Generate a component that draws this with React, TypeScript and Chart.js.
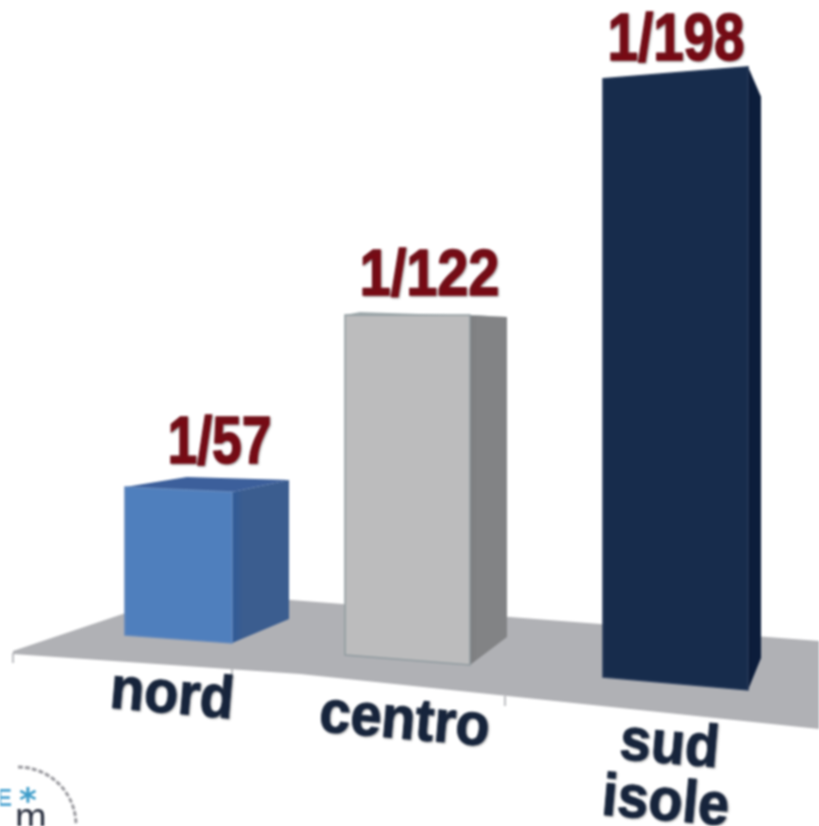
import React, { useEffect, useRef } from "react";
import { Chart, registerables } from "chart.js";

Chart.register(...registerables);

// Data
const categories: string[][] = [["nord"], ["centro"], ["sud", "isole"]];
const denominators: number[] = [57, 122, 198];

// Styles
const frontColors = ["#4f7fbd", "#bcbcbd", "#172c4c"];
const edgeColors = ["#6388bc", "#8f9a9f", "#2a3d5c"];
const sideNearColors = ["#2f5a97", "#7c7d7f", "#07142e"];
const sideFarColors = ["#3b5d8f", "#828385", "#0c1d3b"];
const topColors = ["#3c5f9b", "#a3adb0", "#1f3350"];
const VALUE_COLOR = "#780a14";
const LABEL_COLOR = "#16243c";
const FLOOR_COLOR = "#b0b1b5";

// Hand-tuned projection of each bar (the picture is a 3D perspective drawing)
const views = [
  { shift: 0.5, widthK: 0.86, heightK: 0.868, base: 635, tlDy: -5, trDy: 0, blDy: 0, brDy: 8, sideDx: 57, sideTopDy: -12, sideBotDy: -16, backDx: 62, backDy: -15, valDx: 41, valDy: -29, valSize: 66, valSx: 0.81, labDx: -8, labY: 713 },
  { shift: -19.5, widthK: 1.004, heightK: 0.964, base: 655, tlDy: 0, trDy: 0, blDy: 0, brDy: 10, sideDx: 37, sideTopDy: 2, sideBotDy: -18, backDx: 15, backDy: -3, valDx: 22, valDy: -20, valSize: 65, valSx: 0.86, labDx: -4.5, labY: 738.5 },
  { shift: -0.5, widthK: 1.165, heightK: 1.045, base: 677, tlDy: 0, trDy: -12, blDy: 0, brDy: 13, sideDx: 13, sideTopDy: 30, sideBotDy: -19, backDx: 0, backDy: 0, valDx: 0.5, valDy: -19, valSize: 66, valSx: 0.83, labDx: -7.5, labY: 763 },
];

function poly(ctx: CanvasRenderingContext2D, pts: number[][]) {
  ctx.beginPath();
  pts.forEach((p, i) => (i ? ctx.lineTo(p[0], p[1]) : ctx.moveTo(p[0], p[1])));
  ctx.closePath();
}

function corners(el: any, v: (typeof views)[number]) {
  const L = el.x - el.width / 2;
  const R = el.x + el.width / 2;
  return {
    L,
    R,
    TL: [L, el.y + v.tlDy],
    TR: [R, el.y + v.trDy],
    BL: [L, el.base + v.blDy],
    BR: [R, el.base + v.brDy],
  };
}

const perspectivePlugin = {
  id: "perspective",
  afterDatasetsUpdate(chart: any) {
    const bottom = chart.scales.y.bottom;
    chart.getDatasetMeta(0).data.forEach((el: any, i: number) => {
      const v = views[i];
      el.x += v.shift;
      el.width *= v.widthK;
      el.base = v.base;
      el.y = v.base - (bottom - el.y) * v.heightK;
      el.height = el.base - el.y;
    });
  },
  beforeDatasetsDraw(chart: any) {
    const ctx: CanvasRenderingContext2D = chart.ctx;
    ctx.save();
    // floor
    ctx.fillStyle = FLOOR_COLOR;
    poly(ctx, [[13, 651], [188, 592], [819, 641], [819, 729], [300, 674], [13, 654]]);
    ctx.fill();
    // small axis ticks
    ctx.strokeStyle = "#a9aaae";
    ctx.lineWidth = 1.5;
    [[13, 653], [232, 669], [505, 696]].forEach(([x, y]) => {
      ctx.beginPath();
      ctx.moveTo(x, y);
      ctx.lineTo(x, y + 10);
      ctx.stroke();
    });
    // faces of the bars that are not the plain front rectangle
    chart.getDatasetMeta(0).data.forEach((el: any, i: number) => {
      const v = views[i];
      const { L, R, TL, TR, BL, BR } = corners(el, v);
      const ST = [R + v.sideDx, TR[1] + v.sideTopDy];
      const SB = [R + v.sideDx, el.base + v.sideBotDy];
      const sideGrad = ctx.createLinearGradient(R, 0, R + v.sideDx, 0);
      sideGrad.addColorStop(0, sideNearColors[i]);
      sideGrad.addColorStop(0.2, sideFarColors[i]);
      sideGrad.addColorStop(1, sideFarColors[i]);
      ctx.fillStyle = sideGrad;
      poly(ctx, [TR, ST, SB, BR]);
      ctx.fill();
      if (v.backDx) {
        ctx.fillStyle = topColors[i];
        poly(ctx, [TL, TR, ST, [L + v.backDx, el.y + v.backDy]]);
        ctx.fill();
      }
      ctx.fillStyle = frontColors[i];
      poly(ctx, [TL, TR, BR, BL]);
      ctx.fill();
    });
    ctx.restore();
  },
  afterDatasetsDraw(chart: any) {
    const ctx: CanvasRenderingContext2D = chart.ctx;
    const meta = chart.getDatasetMeta(0);
    ctx.save();
    ctx.textAlign = "center";
    ctx.textBaseline = "alphabetic";
    meta.data.forEach((el: any, i: number) => {
      const v = views[i];
      // outline of the front face
      const { TL, TR, BL, BR } = corners(el, v);
      ctx.strokeStyle = edgeColors[i];
      ctx.lineWidth = 1.5;
      poly(ctx, [TL, TR, BR, BL]);
      ctx.stroke();
      // value label
      ctx.save();
      ctx.translate(el.x + v.valDx, el.y + v.valDy);
      ctx.scale(v.valSx, 1);
      ctx.font = `bold ${v.valSize}px "Liberation Sans"`;
      ctx.fillStyle = VALUE_COLOR;
      ctx.strokeStyle = VALUE_COLOR;
      ctx.lineWidth = 1.4;
      ctx.shadowColor = "rgba(60,60,60,0.45)";
      ctx.shadowBlur = 2;
      ctx.shadowOffsetX = 1;
      ctx.shadowOffsetY = 1;
      const text = `1/${chart.data.datasets[0].data[i]}`;
      ctx.fillText(text, 0, 0);
      ctx.strokeText(text, 0, 0);
      ctx.restore();
      // category label
      (chart.data.labels[i] as string[]).forEach((line, k) => {
        ctx.save();
        ctx.translate(el.x + v.labDx - k * 4, v.labY + k * 57);
        ctx.rotate((5 * Math.PI) / 180);
        ctx.scale(0.98, 1.05);
        ctx.font = 'bold 57px "Liberation Sans"';
        ctx.fillStyle = LABEL_COLOR;
        ctx.strokeStyle = LABEL_COLOR;
        ctx.lineWidth = 1;
        ctx.shadowColor = "rgba(60,60,60,0.4)";
        ctx.shadowBlur = 2;
        ctx.shadowOffsetX = 1;
        ctx.shadowOffsetY = 1;
        ctx.fillText(line, 0, 0);
        ctx.strokeText(line, 0, 0);
        ctx.restore();
      });
    });
    // partly cropped logo in the corner
    ctx.strokeStyle = "#9a9a9f";
    ctx.lineWidth = 3;
    ctx.setLineDash([5, 2]);
    ctx.beginPath();
    ctx.arc(18, 825, 58, -Math.PI / 2, 0);
    ctx.stroke();
    ctx.setLineDash([]);
    ctx.textAlign = "left";
    ctx.font = 'bold 24px "Liberation Sans"';
    ctx.fillStyle = "#4ba3d1";
    ctx.fillText("E", -4, 806);
    ctx.font = 'bold 34px "DejaVu Sans"';
    ctx.fillStyle = "#3d9cc9";
    ctx.fillText("*", 19, 812);
    ctx.font = '38px "Liberation Sans"';
    ctx.fillStyle = "#2a3040";
    ctx.fillText("m", 15, 830);
    ctx.restore();
  },
};

export default function App() {
  const ref = useRef<HTMLCanvasElement>(null);
  useEffect(() => {
    const chart = new Chart(ref.current!, {
      type: "bar",
      data: {
        labels: categories as any,
        datasets: [
          {
            data: denominators,
            backgroundColor: frontColors,
            borderWidth: 0,
            barPercentage: 0.5,
            categoryPercentage: 1,
          },
        ],
      },
      options: {
        responsive: false,
        animation: false,
        layout: { padding: { left: 53.5, right: 18.5, top: 24, bottom: 166 } },
        plugins: { legend: { display: false }, tooltip: { enabled: false } },
        scales: {
          x: { display: false },
          y: { display: false, min: 0, max: 220 },
        },
      },
      plugins: [perspectivePlugin as any],
    });
    return () => chart.destroy();
  }, []);
  return (
    <div style={{ position: "fixed", left: 0, top: 0, width: 819, height: 826, background: "#fff", overflow: "hidden" }}>
      <canvas ref={ref} width={819} height={826} style={{ display: "block", filter: "blur(1px)" }} />
    </div>
  );
}
